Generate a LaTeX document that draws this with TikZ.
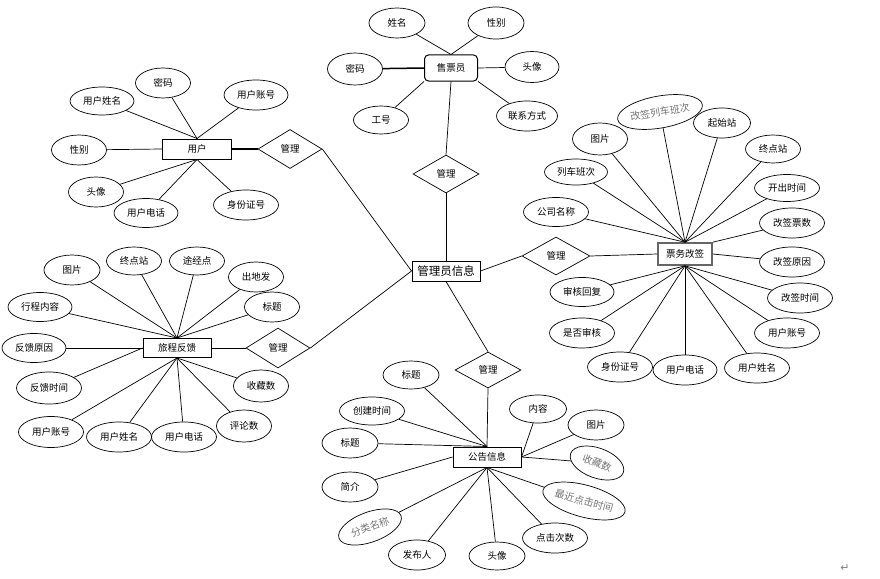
\documentclass[tikz,border=0pt]{standalone}
\usepackage{fontspec}
\newfontfamily\cjk{Noto Sans CJK SC}
\newfontfamily\symf{DejaVu Sans}
\usetikzlibrary{shapes.geometric}
\begin{document}
\begin{tikzpicture}[x=1pt,y=-1pt,
  attr/.style={ellipse,draw,line width=0.7pt,inner sep=0pt,minimum width=56pt,minimum height=30pt,font=\cjk\fontsize{9.5}{10}\selectfont},
  attrg/.style={attr,text=black!55,font=\cjk\fontsize{10}{11}\selectfont},
  ent/.style={rectangle,draw,line width=1pt,inner sep=0pt,minimum width=68pt,minimum height=20pt,font=\cjk\fontsize{9.5}{10}\selectfont},
  rel/.style={diamond,draw,line width=0.7pt,inner sep=0pt,minimum width=66pt,minimum height=38pt,font=\cjk\fontsize{9.5}{10}\selectfont},
  ln/.style={line width=0.7pt},
  thk/.style={line width=1.5pt}]
\useasboundingbox (0,0) rectangle (880,578);
% central
\node[ent,minimum width=68pt,minimum height=20pt,font=\cjk\fontsize{11.5}{12}\selectfont] (gl) at (446,271) {管理员信息};
% ticket seller
\node[ent,rounded corners=4pt,minimum width=53pt,minimum height=26pt] (sp) at (451,68) {售票员};
\node[attr] (sp1) at (397,23) {姓名};
\node[attr,minimum height=32pt] (sp2) at (496,23) {性别};
\node[attr,minimum width=55pt,minimum height=32pt] (sp3) at (355,69) {密码};
\node[attr,minimum width=54pt,minimum height=31pt] (sp4) at (532,67) {头像};
\node[attr,minimum width=55pt,minimum height=28pt] (sp5) at (381,120) {工号};
\node[attr,minimum width=61pt] (sp6) at (527,116) {联系方式};
\node[rel] (r1) at (446,174) {管理};
\draw[ln] (sp1) -- (sp.north);
\draw[ln] (sp2) -- (sp.north);
\draw[thk] (sp3) -- (sp.west);
\draw[ln] (sp4) -- (sp.east);
\draw[ln] (sp5) -- (sp.south west);
\draw[ln] (sp6) -- (sp.south east);
\draw[ln] (sp.south) -- (r1.north);
\draw[ln] (r1.south) -- (gl.north);
% user
\node[ent,minimum width=69pt] (yh) at (197,149) {用户};
\node[attr,minimum width=64pt,minimum height=28pt] (u1) at (102,101) {用户姓名};
\node[attr,minimum width=55pt] (u2) at (163,83) {密码};
\node[attr,minimum width=64pt] (u3) at (256,95) {用户账号};
\node[attr,minimum width=55pt] (u4) at (79,150) {性别};
\node[attr,minimum width=55pt] (u5) at (96,192) {头像};
\node[attr,minimum width=64pt,minimum height=29pt] (u6) at (146,213) {用户电话};
\node[attr,minimum width=65pt] (u7) at (246,205) {身份证号};
\node[rel,minimum width=64pt,minimum height=39pt] (r2) at (290,149) {管理};
\draw[ln] (u1) -- (yh.north);
\draw[ln] (u2) -- (yh.north);
\draw[ln] (u3) -- (yh.north);
\draw[ln] (u4) -- (yh.west);
\draw[ln] (u5) -- (yh.south);
\draw[ln] (u6) -- (yh.south);
\draw[ln] (u7) -- (yh.south);
\draw[thk] (yh.east) -- (r2.west);
\draw[ln] (r2.east) -- (gl.west);
% travel feedback
\node[ent,minimum height=19pt] (lx) at (177,348) {旅程反馈};
\node[attr] (l1) at (72,270) {图片};
\node[attr,minimum width=55pt,minimum height=28pt] (l2) at (134,261) {终点站};
\node[attr,minimum width=55pt,minimum height=28pt] (l3) at (197,261) {途经点};
\node[attr,minimum width=55pt] (l4) at (256,277) {出地发};
\node[attr,minimum width=55pt] (l5) at (272,307) {标题};
\node[attr,minimum width=64pt,minimum height=29pt] (l6) at (40,307) {行程内容};
\node[attr,minimum width=64pt,minimum height=29pt] (l7) at (34,348) {反馈原因};
\node[attr,minimum width=65pt,minimum height=32pt] (l8) at (49,388) {反馈时间};
\node[attr,minimum width=65pt,minimum height=31pt] (l9) at (51,432) {用户账号};
\node[attr,minimum width=65pt] (l10) at (119,437) {用户姓名};
\node[attr,minimum width=65pt] (l11) at (184,437) {用户电话};
\node[attr,minimum width=55pt,minimum height=32pt] (l12) at (244,426) {评论数};
\node[attr,minimum width=55pt,minimum height=32pt] (l13) at (261,386) {收藏数};
\node[rel,minimum width=64pt,minimum height=40pt] (r3) at (278,348) {管理};
\foreach \i in {1,...,6} {\draw[ln] (l\i) -- (lx.north);}
\draw[ln] (l7) -- (lx.west);
\draw[ln] (l8) -- (lx.west);
\foreach \i in {9,...,13} {\draw[ln] (l\i) -- (lx.south);}
\draw[ln] (lx.east) -- (r3.west);
\draw[ln] (r3.east) -- (gl.west);
% ticket change
\node[ent,draw=black!60,line width=1.6pt,minimum width=54pt,minimum height=22pt] (pw) at (685,254) {票务改签};
\node[rel,minimum width=68pt] (r4) at (556,256) {管理};
\node[attrg,minimum width=86pt,minimum height=32pt,rotate=10] (t1) at (660,112) {改签列车班次};
\node[attr,minimum width=57pt] (t2) at (722,123) {起始站};
\node[attr,minimum width=55pt,minimum height=32pt] (t3) at (600,139) {图片};
\node[attr,minimum width=55pt,minimum height=28pt] (t4) at (773,149) {终点站};
\node[attr,minimum width=63pt,minimum height=26pt] (t5) at (576,172) {列车班次};
\node[attr,minimum width=65pt,minimum height=27pt] (t6) at (787,188) {开出时间};
\node[attr,minimum width=65pt,minimum height=29pt] (t7) at (556,212) {公司名称};
\node[attr,minimum width=65pt] (t8) at (792,223) {改签票数};
\node[attr,minimum width=65pt] (t9) at (792,262) {改签原因};
\node[attr,minimum width=64pt,minimum height=29pt] (t10) at (582,292) {审核回复};
\node[attr,minimum width=65pt] (t11) at (800,298) {改签时间};
\node[attr,minimum width=65pt] (t12) at (582,333) {是否审核};
\node[attr,minimum width=65pt] (t13) at (787,333) {用户账号};
\node[attr,minimum width=65pt] (t14) at (620,367) {身份证号};
\node[attr,minimum width=64pt] (t15) at (685,370) {用户电话};
\node[attr,minimum width=65pt] (t16) at (757,368) {用户姓名};
\foreach \i in {1,...,7} {\draw[ln] (t\i) -- (pw.north);}
\draw[ln] (t8) -- (pw.north east);
\draw[ln] (t9) -- (pw.east);
\foreach \i in {10,...,16} {\draw[ln] (t\i) -- (pw.south);}
\draw[ln] (gl.east) -- (r4.west);
\draw[ln] (r4.east) -- (pw.west);
% notice
\node[ent] (gg) at (487,457) {公告信息};
\node[rel,minimum height=36pt] (r5) at (488,370) {管理};
\node[attr,minimum height=28pt] (n1) at (411,375) {标题};
\node[attr,minimum width=65pt,minimum height=28pt] (n2) at (372,411) {创建时间};
\node[attr,minimum width=57pt,minimum height=28pt] (n3) at (538,409) {内容};
\node[attr] (n4) at (596,425) {图片};
\node[attr] (n5) at (350,443) {标题};
\node[attrg,rotate=-20] (n6) at (597,463) {收藏数};
\node[attr] (n7) at (350,487) {简介};
\node[attrg,minimum width=84pt,minimum height=32pt,rotate=-15] (n8) at (584,501) {最近点击时间};
\node[attrg,minimum width=66pt,rotate=20] (n9) at (370,527) {分类名称};
\node[attr,minimum width=65pt] (n10) at (555,538) {点击次数};
\node[attr,minimum width=57pt] (n11) at (417,555) {发布人};
\node[attr,minimum height=28pt] (n12) at (497,556) {头像};
\draw[ln] (gl.south) -- (r5.north);
\draw[ln] (r5.south) -- (gg.north);
\draw[ln] (n1) -- (gg.north);
\draw[ln] (n2) -- (gg.north);
\draw[ln] (n5) -- (gg.north);
\draw[ln] (n3) -- (gg.east);
\draw[ln] (n4) -- (gg.east);
\draw[ln] (n6) -- (gg.east);
\draw[ln] (n7) -- (gg.west);
\foreach \i in {8,...,12} {\draw[ln] (n\i) -- (gg.south);}
% paragraph mark
\node[text=black!50,font=\symf\fontsize{11}{12}\selectfont,inner sep=0pt] (pm) at (845,568) {↵};
\end{tikzpicture}
\end{document}
